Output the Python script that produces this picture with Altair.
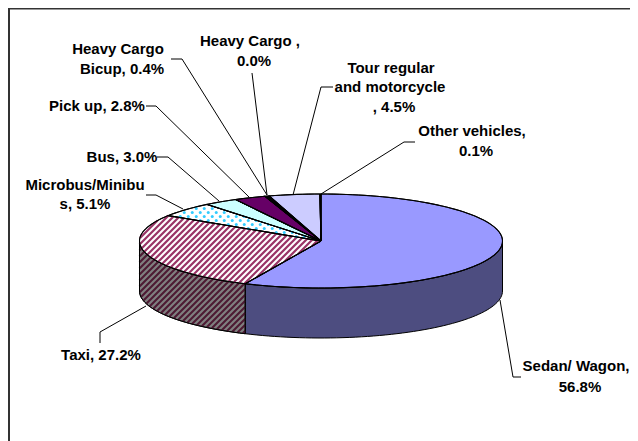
import numpy as np
import pandas as pd
import altair as alt

categories = ["Sedan/ Wagon", "Taxi", "Microbus/Minibus", "Bus", "Pick up",
              "Heavy Cargo Bicup", "Heavy Cargo", "Tour regular and motorcycle", "Other vehicles"]
shares = [56.8, 27.2, 5.1, 3.0, 2.8, 0.4, 0.0, 4.5, 0.1]
top_fill = ["#9999FF", "#FFFFFF", "#FFFFFF", "#CCFFFF", "#660066", "#000000", "#000000", "#CCCCFF", "#000000"]
side_fill = {"Sedan/ Wagon": "#4D4D80", "Taxi": "#808080"}

label_lines = ["Heavy Cargo", "Bicup, 0.4%", "Heavy Cargo ,", "0.0%", "Pick up, 2.8%", "Bus, 3.0%",
               "Microbus/Minibu", "s, 5.1%", "Tour regular", "and motorcycle", ", 4.5%",
               "Other vehicles,", "0.1%", "Taxi, 27.2%", "Sedan/ Wagon,", "56.8%"]
label_x = [118, 122, 250, 254, 97, 122, 85, 85, 391, 390, 394, 472, 476, 101, 576, 580]
label_y = [49, 69, 41, 61, 106, 157, 185, 204, 68, 87, 107, 131, 151, 355, 366, 387]

leaders = [
    [(171, 59), (182, 59), (267, 195)],
    [(252, 73), (267, 195)],
    [(146, 106), (156, 106), (249, 197)],
    [(157, 157), (168, 157), (219, 201)],
    [(146, 195), (156, 195), (183, 209)],
    [(293, 195), (321, 87), (333, 87)],
    [(321, 194), (404, 142), (415, 142)],
    [(146, 306), (100, 332), (100, 343)],
    [(500, 300), (513, 377), (521, 377)],
]

CX, CY, A, B, DEPTH = 321.0, 241.0, 181.5, 47.0, 50.0
X = alt.X("x:Q", scale=alt.Scale(domain=[8, 630], nice=False, zero=False), axis=None)
Y = alt.Y("y:Q", scale=alt.Scale(domain=[441, 8], nice=False, zero=False), axis=None)


def rim(t0, t1, dy=0.0):
    n = max(2, int(abs(t1 - t0) / 2) + 2)
    t = np.radians(np.linspace(t0, t1, n))
    return [(CX + A * np.sin(v), CY - B * np.cos(v) + dy) for v in t]


def line_chart(points, **mark):
    df = pd.DataFrame({"x": [p[0] for p in points], "y": [p[1] for p in points], "i": range(len(points))})
    return alt.Chart(df).mark_line(**mark).encode(x=X, y=Y, order="i:Q")


def inside(poly, px, py):
    xs = np.array([p[0] for p in poly])
    ys = np.array([p[1] for p in poly])
    xn, yn = np.roll(xs, -1), np.roll(ys, -1)
    hit = ((ys > py) != (yn > py)) & (px < (xn - xs) * (py - ys) / (yn - ys + 1e-12) + xs)
    return hit.sum() % 2 == 1


def stripes(poly, color, width, period=6.0, slope=-1):
    xs = [p[0] for p in poly]
    ys = [p[1] for p in poly]
    rows = []
    c = 0.0
    while c < 1300:
        run = None
        for px in np.arange(min(xs) - 1, max(xs) + 1, 0.25):
            py = c + slope * px
            ok = inside(poly, px, py)
            if ok and run is None:
                run = (px, py)
            if run is not None and not ok:
                rows.append({"x": run[0], "y": run[1], "x2": px, "y2": py})
                run = None
        c += period
    df = pd.DataFrame(rows)
    return alt.Chart(df).mark_rule(color=color, strokeWidth=width).encode(x=X, y=Y, x2="x2:Q", y2="y2:Q")


def dots(poly, color):
    rows = []
    ys = [p[1] for p in poly]
    xs = [p[0] for p in poly]
    for r, py in enumerate(np.arange(min(ys), max(ys), 4.0)):
        for px in np.arange(min(xs) + (r % 2) * 4.0, max(xs), 8.0):
            if inside(poly, px, py):
                rows.append({"x": px, "y": py})
    return alt.Chart(pd.DataFrame(rows)).mark_circle(color=color, size=9, opacity=1).encode(x=X, y=Y)


layers = []
edges = np.concatenate([[0], np.cumsum(shares)]) * 3.6
edges = edges * 360.0 / edges[-1]

# side wall
for name, t0, t1 in [("Sedan/ Wagon", 90.0, edges[1]), ("Taxi", edges[1], 270.0)]:
    upper = rim(t0, t1)
    lower = rim(t1, t0, DEPTH)
    poly = upper + lower + [upper[0]]
    layers.append(line_chart(poly, fill=side_fill[name], stroke="#000000", strokeWidth=1))
    if name == "Taxi":
        layers.append(stripes(poly[:-1], "#4D1A33", 2.2))
        layers.append(line_chart(poly, stroke="#000000", strokeWidth=1))

# top face
outlines = []
for cat, fill, t0, t1 in zip(categories, top_fill, edges[:-1], edges[1:]):
    if t1 - t0 == 0:
        continue
    poly = [(CX, CY)] + rim(t0, t1) + [(CX, CY)]
    layers.append(line_chart(poly, fill=fill, stroke="#000000", strokeWidth=1))
    if cat == "Taxi":
        layers.append(stripes(poly[:-1], "#993366", 2.2))
    if cat == "Microbus/Minibus":
        layers.append(dots(poly[:-1], "#33CCFF"))
    outlines.append(line_chart(poly, stroke="#000000", strokeWidth=0.5 if t1 - t0 < 1 else 1.1))
layers += outlines

# leaders
for pts in leaders:
    layers.append(line_chart(pts, stroke="#000000", strokeWidth=1))

# frame
layers.append(line_chart([(9, 441), (9, 8.5), (630, 8.5)], stroke="#333333", strokeWidth=2))

# labels
labels = pd.DataFrame({"t": label_lines, "x": label_x, "y": label_y})
layers.append(
    alt.Chart(labels)
    .mark_text(font="Liberation Sans", fontWeight="bold", fontSize=15, color="#000000", baseline="middle", align="center")
    .encode(x=X, y=Y, text="t:N")
)

chart = (
    alt.layer(*layers)
    .properties(width=622, height=433, padding=0, autosize=alt.AutoSizeParams(type="none"), background="#FFFFFF")
    .configure_view(stroke=None)
)
chart.save("out.html", embed_options={"renderer": "svg", "actions": False})
